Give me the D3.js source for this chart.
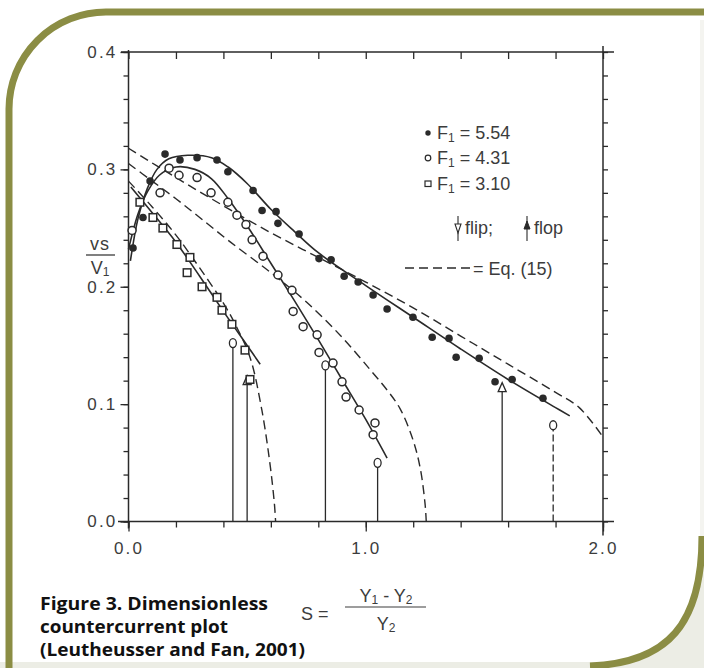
<!DOCTYPE html>
<html><head><meta charset="utf-8">
<script src="https://cdn.jsdelivr.net/npm/d3@7"></script>
<style>body{margin:0;background:#fff}svg{display:block}</style>
</head><body>
<svg id="c" width="704" height="668"></svg>
<script>
// ---------- data ----------
const xTickValues = [0, 1, 2];
const xTickLabels = ["0.0", "1.0", "2.0"];
const yTickValues = [0, 0.1, 0.2, 0.3, 0.4];
const yTickLabels = ["0.0", "0.1", "0.2", "0.3", "0.4"];

// F1 = 5.54 (filled dots)
const s554 = [0.019,0.061,0.091,0.154,0.217,0.289,0.373,0.419,0.525,0.563,0.622,0.630,0.719,0.803,0.854,0.909,0.968,1.031,1.090,1.199,1.280,1.351,1.381,1.478,1.545,1.617,1.747];
const v554 = [0.233,0.259,0.290,0.313,0.308,0.310,0.308,0.298,0.282,0.265,0.264,0.254,0.245,0.224,0.223,0.209,0.204,0.193,0.181,0.174,0.157,0.156,0.140,0.139,0.119,0.121,0.105];
// F1 = 4.31 (open circles)
const s431 = [0.015,0.133,0.171,0.213,0.289,0.348,0.419,0.457,0.495,0.521,0.567,0.630,0.689,0.694,0.736,0.795,0.803,0.862,0.900,0.917,0.972,1.039,1.031];
const v431 = [0.248,0.280,0.301,0.295,0.293,0.280,0.272,0.261,0.253,0.240,0.226,0.210,0.197,0.179,0.166,0.159,0.144,0.135,0.119,0.106,0.095,0.084,0.074];
// F1 = 3.10 (open squares)
const s310 = [0.048,0.103,0.145,0.204,0.259,0.247,0.310,0.373,0.394,0.436,0.491,0.512];
const v310 = [0.272,0.259,0.250,0.236,0.225,0.212,0.200,0.191,0.180,0.168,0.146,0.121];

// fitted solid curves
const fit554S = [0.008,0.04,0.08,0.12,0.17,0.25,0.35,0.42,0.5,0.6,0.7,0.8,1.0,1.2,1.4,1.6,1.8,1.86];
const fit554V = [0.222,0.258,0.284,0.300,0.309,0.312,0.310,0.302,0.288,0.266,0.247,0.229,0.201,0.174,0.147,0.121,0.097,0.090];
const fit431S = [0.0,0.04,0.08,0.13,0.2,0.28,0.35,0.42,0.5,0.6,0.7,0.8,0.9,1.0,1.09];
const fit431V = [0.232,0.262,0.281,0.295,0.302,0.300,0.292,0.275,0.252,0.220,0.188,0.155,0.121,0.087,0.054];
const fit310S = [0.01,0.1,0.2,0.3,0.4,0.5,0.555];
const fit310V = [0.285,0.263,0.238,0.209,0.179,0.150,0.134];

// Eq. (15) dashed curves
const eq554S = [0,0.2,0.4,0.6,0.8,1.0,1.2,1.4,1.6,1.8,1.9,2.0];
const eq554V = [0.318,0.293,0.269,0.246,0.225,0.204,0.182,0.158,0.134,0.110,0.097,0.072];
const eq431S = [0,0.1,0.2,0.3,0.43,0.6,0.75,0.9,1.02,1.09,1.145,1.2,1.23,1.25,1.255];
const eq431V = [0.305,0.290,0.275,0.259,0.238,0.212,0.187,0.157,0.129,0.112,0.096,0.069,0.045,0.015,0.0];
const eq310S = [0,0.1,0.2,0.3,0.4,0.45,0.512,0.562,0.597,0.615,0.62];
const eq310V = [0.290,0.268,0.244,0.216,0.186,0.168,0.140,0.095,0.048,0.015,0.0];

// flip / flop onsets
const flipS = [0.44, 0.83, 1.05, 1.79];
const flipV = [0.152, 0.133, 0.050, 0.082];
const flopS = [0.50, 1.575];
const flopV = [0.120, 0.114];

const legendLabels = ["5.54", "4.31", "3.10"];
const captionLines = ["Figure 3.  Dimensionless", "countercurrent plot", "(Leutheusser and Fan, 2001)"];

// ---------- drawing ----------
const svg = d3.select("#c");
const ink = "#2a2a2a", txt = "#3c3c3c", olive = "#8b8d44", pale = "#ecede5";
const FONT = "'Liberation Sans', Arial, sans-serif";

svg.append("rect").attr("width",704).attr("height",668).attr("fill","#fff");
svg.append("rect").attr("x",0).attr("y",662).attr("width",704).attr("height",6).attr("fill",pale);
svg.append("path").attr("d","M702,536 C702,624 668,663 590,666 L704,668 L704,536 Z").attr("fill",pale);
svg.append("rect").attr("x",700).attr("y",20).attr("width",4).attr("height",520).attr("fill","#f4f4f0");
svg.append("path").attr("d","M704,12 L106,12 A97,97 0 0 0 9,109 L9,668")
  .attr("fill","none").attr("stroke",olive).attr("stroke-width",7);
svg.append("path").attr("d","M702,536 C702,624 668,663 590,666")
  .attr("fill","none").attr("stroke",olive).attr("stroke-width",7);

const x = d3.scaleLinear().domain([0,2]).range([128.5,603]);
const y = d3.scaleLinear().domain([0,0.4]).range([521.5,52]);

const g = svg.append("g");

g.append("line").attr("x1",121).attr("x2",614).attr("y1",y(0.4)).attr("y2",y(0.4)).attr("stroke",ink).attr("stroke-width",1.5);
g.append("line").attr("x1",x(0)).attr("x2",x(0)).attr("y1",y(0.4)-2).attr("y2",y(0)+7).attr("stroke",ink).attr("stroke-width",1.5);
g.append("line").attr("x1",x(2)).attr("x2",x(2)).attr("y1",y(0.4)-6).attr("y2",y(0)+14).attr("stroke",ink).attr("stroke-width",1.5);
g.append("line").attr("x1",118).attr("x2",614).attr("y1",y(0)).attr("y2",y(0)).attr("stroke",ink).attr("stroke-width",1.5);

function styleAxis(sel){
  sel.select(".domain").remove();
  sel.selectAll(".tick line").attr("stroke",ink).attr("stroke-width",1.3);
  sel.selectAll(".tick text").attr("fill",txt).attr("font-family",FONT).attr("font-size",17).attr("letter-spacing",2.2);
}
const minorY = d3.range(0,0.4001,0.02);
const minorX = d3.range(0,2.0001,0.2);

g.append("g").attr("transform",`translate(${x(0)},0)`)
  .call(d3.axisLeft(y).tickValues(minorY).tickSize(5).tickFormat(""))
  .call(styleAxis);
g.append("g").attr("transform",`translate(${x(0)},0)`)
  .call(d3.axisLeft(y).tickValues(yTickValues).tickSize(8).tickPadding(3).tickFormat((d,i)=>yTickLabels[i]))
  .call(styleAxis);
g.append("g").attr("transform",`translate(${x(2)},0)`)
  .call(d3.axisRight(y).tickValues(minorY).tickSize(5).tickFormat(""))
  .call(styleAxis);
g.append("g").attr("transform",`translate(0,${y(0)})`)
  .call(d3.axisBottom(x).tickValues(minorX).tickSize(6).tickFormat(""))
  .call(styleAxis);
g.append("g").attr("transform",`translate(0,${y(0)})`)
  .call(d3.axisBottom(x).tickValues(xTickValues).tickSize(10).tickPadding(10).tickFormat((d,i)=>xTickLabels[i]))
  .call(styleAxis);
g.append("g").attr("transform",`translate(0,${y(0.4)})`)
  .call(d3.axisTop(x).tickValues(minorX).tickSize(-7).tickFormat(""))
  .call(styleAxis);

const zip = (a,b)=>a.map((v,i)=>[v,b[i]]);
const lineGen = d3.line().x(d=>x(d[0])).y(d=>y(d[1])).curve(d3.curveCatmullRom.alpha(0.5));
function curve(S,V,dash,w){
  g.append("path").attr("d",lineGen(zip(S,V))).attr("fill","none")
   .attr("stroke",ink).attr("stroke-width",w||1.4).attr("stroke-dasharray",dash||null);
}
curve(eq554S,eq554V,"9,5",1.4);
curve(eq431S,eq431V,"9,5",1.4);
curve(eq310S,eq310V,"9,5",1.4);
curve(fit554S,fit554V,null,1.6);
curve(fit431S,fit431V,null,1.6);
curve(fit310S,fit310V,null,1.6);

flipS.forEach((s,i)=>{
  g.append("line").attr("x1",x(s)).attr("x2",x(s)).attr("y1",y(0)).attr("y2",y(flipV[i])+4)
   .attr("stroke",ink).attr("stroke-width",1.3).attr("stroke-dasharray", i===3?"7,3":null);
  g.append("ellipse").attr("cx",x(s)).attr("cy",y(flipV[i])).attr("rx",3.5).attr("ry",4.5)
   .attr("fill","#fff").attr("stroke",ink).attr("stroke-width",1.3);
});
flopS.forEach((s,i)=>{
  g.append("line").attr("x1",x(s)).attr("x2",x(s)).attr("y1",y(0)).attr("y2",y(flopV[i])+4)
   .attr("stroke",ink).attr("stroke-width",1.3);
  const cx=x(s), cy=y(flopV[i]);
  g.append("path").attr("d",`M${cx-4},${cy+4} L${cx+4},${cy+4} L${cx},${cy-5} Z`)
   .attr("fill","#fff").attr("stroke",ink).attr("stroke-width",1.3);
});

g.selectAll(".p554").data(zip(s554,v554)).enter().append("circle")
  .attr("cx",d=>x(d[0])).attr("cy",d=>y(d[1])).attr("r",3.8).attr("fill",ink);
g.selectAll(".p431").data(zip(s431,v431)).enter().append("circle")
  .attr("cx",d=>x(d[0])).attr("cy",d=>y(d[1])).attr("r",4).attr("fill","#fff").attr("stroke",ink).attr("stroke-width",1.5);
g.selectAll(".p310").data(zip(s310,v310)).enter().append("rect")
  .attr("x",d=>x(d[0])-3.8).attr("y",d=>y(d[1])-3.8).attr("width",7.6).attr("height",7.6)
  .attr("fill","#fff").attr("stroke",ink).attr("stroke-width",1.5);

// y label
const yl = svg.append("g").attr("font-family",FONT).attr("fill",txt).attr("font-size",18);
yl.append("text").attr("x",100).attr("y",250).attr("text-anchor","middle").attr("letter-spacing",1).text("vs");
yl.append("line").attr("x1",86).attr("x2",115).attr("y1",255).attr("y2",255).attr("stroke",txt).attr("stroke-width",1.3);
yl.append("text").attr("x",100).attr("y",274).attr("text-anchor","middle")
  .call(t=>{t.append("tspan").text("V");t.append("tspan").attr("font-size",12).attr("dy",2).text("1");});

// legend
const lg = svg.append("g").attr("font-family",FONT).attr("fill",txt).attr("font-size",18);
const ly = [139,164,190];
lg.append("circle").attr("cx",428).attr("cy",ly[0]-6).attr("r",2.7).attr("fill",ink);
lg.append("circle").attr("cx",428).attr("cy",ly[1]-6).attr("r",2.8).attr("fill","#fff").attr("stroke",ink).attr("stroke-width",1.2);
lg.append("rect").attr("x",425).attr("y",ly[2]-9).attr("width",6).attr("height",5.5).attr("fill","#fff").attr("stroke",ink).attr("stroke-width",1.2);
legendLabels.forEach((lab,i)=>{
  const t = lg.append("text").attr("x",437).attr("y",ly[i]);
  t.append("tspan").text("F");
  t.append("tspan").attr("font-size",12).attr("dy",3).text("1");
  t.append("tspan").attr("dy",-3).text(" = "+lab);
});
lg.append("line").attr("x1",458).attr("x2",458).attr("y1",216).attr("y2",241).attr("stroke",ink).attr("stroke-width",1.1);
lg.append("path").attr("d","M455,224 L461,224 L458,233 Z").attr("fill","#fff").attr("stroke",ink).attr("stroke-width",1.1);
lg.append("text").attr("x",465).attr("y",234).text("flip;");
lg.append("line").attr("x1",527).attr("x2",527).attr("y1",216).attr("y2",241).attr("stroke",ink).attr("stroke-width",1.1);
lg.append("path").attr("d","M524,229 L530,229 L527,221 Z").attr("fill",ink).attr("stroke",ink).attr("stroke-width",1);
lg.append("text").attr("x",534).attr("y",234).text("flop");
lg.append("line").attr("x1",405).attr("x2",470).attr("y1",268).attr("y2",268).attr("stroke",ink).attr("stroke-width",1.3).attr("stroke-dasharray","9,5");
lg.append("text").attr("x",473).attr("y",275).text("= Eq. (15)");

// S formula
const sf = svg.append("g").attr("font-family",FONT).attr("fill",txt).attr("font-size",18);
sf.append("text").attr("x",301).attr("y",620).text("S =");
const num = sf.append("text").attr("x",386).attr("y",602).attr("text-anchor","middle");
num.append("tspan").text("Y");
num.append("tspan").attr("font-size",12).attr("dy",2).text("1");
num.append("tspan").attr("dy",-2).text(" - Y");
num.append("tspan").attr("font-size",12).attr("dy",2).text("2");
sf.append("line").attr("x1",345).attr("x2",426).attr("y1",607).attr("y2",607).attr("stroke",txt).attr("stroke-width",1.2);
const den = sf.append("text").attr("x",386).attr("y",630).attr("text-anchor","middle");
den.append("tspan").text("Y");
den.append("tspan").attr("font-size",12).attr("dy",2).text("2");

// caption
const capW = [228, 188, 265];
const capY = [610, 633, 656];
captionLines.forEach((c,i)=>{
  svg.append("text").attr("x",40).attr("y",capY[i]).attr("font-family","'Open Sans', sans-serif")
    .attr("font-weight",700).attr("font-size",18).attr("fill","#111")
    .attr("textLength",capW[i]).attr("lengthAdjust","spacingAndGlyphs").text(c);
});
</script>
</body></html>
